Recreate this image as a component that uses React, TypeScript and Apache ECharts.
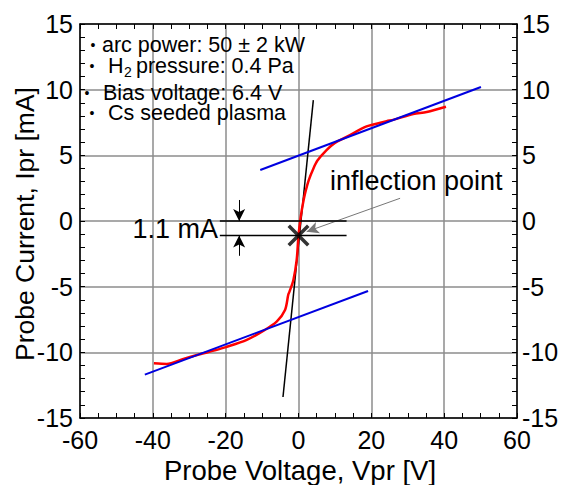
import React, { useEffect, useRef } from "react";
import * as echarts from "echarts";

// ---- data ----
const xTicks = [-60, -40, -20, 0, 20, 40, 60];
const yTicks = [-15, -10, -5, 0, 5, 10, 15];

// measured probe current vs probe voltage (red)
const measuredV = [-39.7, -36.2, -31.6, -27.1, -23, -19.9, -14.2, -9.7, -6.0, -3.7, -2.8, -2.5, -1.4, -0.5, 0, 0.6, 1.2, 1.8, 2.8, 4.1, 5.2, 7.7, 10, 13.2, 18.7, 24.2, 26, 31.5, 35.2, 40.5];
const measuredI = [-10.83, -10.88, -10.5, -10.15, -9.85, -9.6, -9.05, -8.37, -7.66, -6.77, -5.6, -5.4, -4.49, -2.97, -1.1, 0.3, 1.3, 2.1, 3.1, 4.0, 4.6, 5.4, 5.95, 6.4, 7.2, 7.6, 7.7, 8.15, 8.3, 8.7];

// fitted lines
const upperFitV = [-10.5, 50.1];
const upperFitI = [3.88, 10.2];
const lowerFitV = [-42.2, 19.1];
const lowerFitI = [-11.7, -5.33];
const slopeFitV = [-4.26, 4.07];
const slopeFitI = [-13.4, 9.2];

// annotations
const inflection = [0, -1.1];
const refLineV = [-21.6, 13.2];
const refLevels = [0, -1.1];
const dimArrowV = -16.3;
const inflectionArrowFrom = [27.9, 1.73];
const inflectionArrowTo = [2.25, -0.81];

const notes = [
  "arc power: 50 \u00b1 2 kW",
  "pressure: 0.4 Pa",
  "Bias voltage: 6.4 V",
  "Cs seeded plasma",
];

const FONT = "'Liberation Sans', Arial, Helvetica, sans-serif";

const zip = (a: number[], b: number[]) => a.map((v, i) => [v, b[i]]);

export default function App() {
  const ref = useRef<HTMLDivElement>(null);
  useEffect(() => {
    if (!ref.current) return;
    const chart = echarts.init(ref.current, null, { renderer: "svg" });
    const gridColor = "#8d8d8d";
    const xBase = {
      type: "value" as const,
      min: xTicks[0],
      max: xTicks[xTicks.length - 1],
      interval: 20,
      axisLine: { show: true, onZero: false, lineStyle: { color: "#000", width: 1.5 } },
      axisTick: { show: true, inside: true, length: 5, lineStyle: { color: "#000", width: 1 } },
      minorTick: { show: true, splitNumber: 4, length: 5, lineStyle: { color: "#000", width: 1 } },
    };
    const yBase = {
      type: "value" as const,
      min: yTicks[0],
      max: yTicks[yTicks.length - 1],
      interval: 5,
      axisLine: { show: true, onZero: false, lineStyle: { color: "#000", width: 1.5 } },
      axisTick: { show: true, inside: true, length: 5, lineStyle: { color: "#000", width: 1 } },
      minorTick: { show: true, splitNumber: 5, length: 5, lineStyle: { color: "#000", width: 1 } },
    };
    const labelStyle = { color: "#000", fontSize: 25, fontFamily: FONT };
    const legendTexts: any[] = [];
    const bullets = [
      [93, 45],
      [92, 66],
      [87, 93],
      [92, 113],
    ];
    bullets.forEach(([bx, by]) => {
      legendTexts.push({
        type: "text",
        x: bx,
        y: by,
        style: { text: "\u2022", fontSize: 14, lineHeight: 10, fontFamily: FONT, fill: "#000", align: "center", verticalAlign: "middle" },
        z: 100,
      });
    });
    const LF = 21.5;
    const LH = 18;
    legendTexts.push(
      { type: "text", x: 102, y: 45, style: { text: notes[0], fontSize: LF, lineHeight: LH, fontFamily: FONT, fill: "#000", verticalAlign: "middle" }, z: 100 },
      { type: "text", x: 108, y: 66, style: { text: "H", fontSize: LF, lineHeight: LH, fontFamily: FONT, fill: "#000", verticalAlign: "middle" }, z: 100 },
      { type: "text", x: 124, y: 72, style: { text: "2", fontSize: 14, lineHeight: 12, fontFamily: FONT, fill: "#000", verticalAlign: "middle" }, z: 100 },
      { type: "text", x: 136, y: 66, style: { text: notes[1], fontSize: LF, lineHeight: LH, fontFamily: FONT, fill: "#000", verticalAlign: "middle" }, z: 100 },
      { type: "text", x: 103, y: 93, style: { text: notes[2], fontSize: LF, lineHeight: LH, fontFamily: FONT, fill: "#000", verticalAlign: "middle" }, z: 100 },
      { type: "text", x: 108, y: 113, style: { text: notes[3], fontSize: LF, lineHeight: LH, fontFamily: FONT, fill: "#000", verticalAlign: "middle" }, z: 100 }
    );

    const crossPath =
      "path://M0,2.5 L2.5,0 L11,8.5 L19.5,0 L22,2.5 L13.5,11 L22,19.5 L19.5,22 L11,13.5 L2.5,22 L0,19.5 L8.5,11 Z";

    chart.setOption({
      animation: false,
      backgroundColor: "#fff",
      textStyle: { fontFamily: FONT },
      grid: { left: 80, right: 46, top: 24, bottom: 67, containLabel: false },
      xAxis: [
        {
          ...xBase,
          position: "bottom",
          axisLabel: { ...labelStyle, margin: 9 },
          splitLine: { show: true, lineStyle: { color: gridColor, width: 1.5 } },
        },
        {
          ...xBase,
          position: "top",
          axisLabel: { show: false },
          splitLine: { show: false },
        },
      ],
      yAxis: [
        {
          ...yBase,
          position: "left",
          axisLabel: { ...labelStyle, margin: 7 },
          splitLine: { show: true, lineStyle: { color: gridColor, width: 1.5 } },
        },
        {
          ...yBase,
          position: "right",
          axisLabel: { ...labelStyle, margin: 5 },
          splitLine: { show: false },
        },
      ],
      graphic: [
        ...legendTexts,
        {
          type: "text",
          x: 300,
          y: 470,
          style: { text: "Probe Voltage, Vpr [V]", fontSize: 27.5, fontFamily: FONT, fill: "#000", align: "center", verticalAlign: "middle" },
        },
        {
          type: "text",
          x: 25,
          y: 224,
          rotation: Math.PI / 2,
          style: { text: "Probe Current, Ipr [mA]", fontSize: 26.5, fontFamily: FONT, fill: "#000", align: "center", verticalAlign: "middle" },
        },
        {
          type: "text",
          x: 330,
          y: 181,
          style: { text: "inflection point", fontSize: 27, fontFamily: FONT, fill: "#000", align: "left", verticalAlign: "middle" },
          z: 100,
        },
        {
          type: "text",
          x: 218,
          y: 229,
          style: { text: "1.1 mA", fontSize: 27, fontFamily: FONT, fill: "#000", align: "right", verticalAlign: "middle" },
          z: 100,
        },
      ],
      series: [
        {
          type: "line",
          name: "slope",
          data: zip(slopeFitV, slopeFitI),
          showSymbol: false,
          symbol: "none",
          lineStyle: { color: "#000", width: 1.5 },
          z: 3,
        },
        {
          type: "line",
          name: "measured",
          data: zip(measuredV, measuredI),
          showSymbol: false,
          symbol: "none",
          smooth: 0.3,
          lineStyle: { color: "#ff0000", width: 2.5 },
          z: 4,
        },
        {
          type: "line",
          name: "upper fit",
          data: zip(upperFitV, upperFitI),
          symbol: "none",
          lineStyle: { color: "#0000e0", width: 2 },
          z: 5,
        },
        {
          type: "line",
          name: "lower fit",
          data: zip(lowerFitV, lowerFitI),
          symbol: "none",
          lineStyle: { color: "#0000e0", width: 2 },
          z: 5,
        },
        ...refLevels.map((lv) => ({
          type: "line",
          name: "ref" + lv,
          data: refLineV.map((v) => [v, lv]),
          symbol: "none",
          lineStyle: { color: "#000", width: 1.5 },
          z: 6,
        })),
        {
          type: "scatter",
          name: "inflection",
          data: [inflection],
          symbol: crossPath,
          symbolSize: 22,
          itemStyle: { color: "#000" },
          z: 7,
          markLine: {
            silent: true,
            symbol: ["none", "arrow"],
            symbolSize: [9, 12],
            label: { show: false },
            lineStyle: { type: "solid", color: "#000", width: 1 },
            data: [
              [
                { coord: [dimArrowV, 1.6] },
                { coord: [dimArrowV, refLevels[0]] },
              ],
              [
                { coord: [dimArrowV, -2.65] },
                { coord: [dimArrowV, refLevels[1]] },
              ],
              [
                { coord: inflectionArrowFrom, lineStyle: { color: "#777", width: 1 } },
                { coord: inflectionArrowTo },
              ],
            ],
          },
        },
      ],
    });
    return () => chart.dispose();
  }, []);
  return (
    <div
      ref={ref}
      style={{ position: "fixed", left: 0, top: 0, width: 563, height: 485, background: "#fff" }}
    />
  );
}
